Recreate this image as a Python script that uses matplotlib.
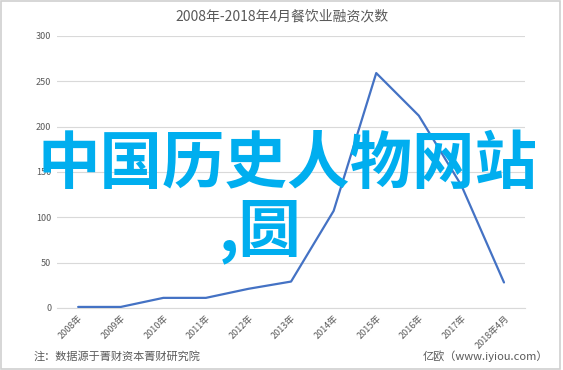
import matplotlib.pyplot as plt

plt.rcParams['font.family'] = ['Noto Sans CJK SC', 'DejaVu Sans']

# data
years = ['2008年', '2009年', '2010年', '2011年', '2012年', '2013年',
         '2014年', '2015年', '2016年', '2017年', '2018年4月']
counts = [1, 1, 11, 11, 21, 29, 107, 259, 212, 135, 28]
y_ticks = [0, 50, 100, 150, 200, 250, 300]

title = '2008年-2018年4月餐饮业融资次数'
note_left = '注：数据源于菁财资本菁财研究院'
note_right = '亿欧（www.iyiou.com）'

text_grey = '#595959'
grid_grey = '#d9d9d9'
line_blue = '#4472c4'

fig = plt.figure(figsize=(5.63, 3.70), dpi=100)
ax = fig.add_axes([0.101, 0.168, 0.832, 0.735])

x = list(range(len(years)))
ax.plot(x, counts, color=line_blue, linewidth=1.6, solid_capstyle='round', zorder=3)

ax.set_xlim(-0.5, len(years) - 0.5)
ax.set_ylim(0, 300)
ax.set_yticks(y_ticks)
ax.set_yticklabels([str(v) for v in y_ticks], fontsize=6.5, color=text_grey)
ax.set_xticks(x)
ax.set_xticklabels(years, rotation=45, ha='right', va='top',
                   rotation_mode='anchor', fontsize=6.5, color=text_grey)
ax.tick_params(axis='both', length=0, pad=4)
ax.grid(axis='y', color=grid_grey, linewidth=0.8)
ax.set_axisbelow(True)
for side in ['top', 'right', 'left']:
    ax.spines[side].set_visible(False)
ax.spines['bottom'].set_color(grid_grey)
ax.spines['bottom'].set_linewidth(0.8)

fig.text(0.5, 0.955, title, ha='center', va='center', fontsize=10, color=text_grey)
fig.text(0.059, 0.038, note_left, ha='left', va='center', fontsize=8, color=text_grey)
fig.text(0.973, 0.038, note_right, ha='right', va='center', fontsize=8, color=text_grey)

# big cyan overlay text on top of the chart
fig.text(0.51, 0.555, '中国历史人物网站', ha='center', va='center',
         fontsize=45, fontweight='bold', color='#00aeef', zorder=10)
fig.text(0.462, 0.375, ',圆', ha='center', va='center',
         fontsize=45, fontweight='bold', color='#00aeef', zorder=10)

# light frame around the picture
frame = plt.Rectangle((0.002, 0.003), 0.993, 0.994, transform=fig.transFigure,
                      fill=False, edgecolor='#d0d0d0', linewidth=1.2)
fig.patches.append(frame)

fig.savefig('out.png', dpi=100)
